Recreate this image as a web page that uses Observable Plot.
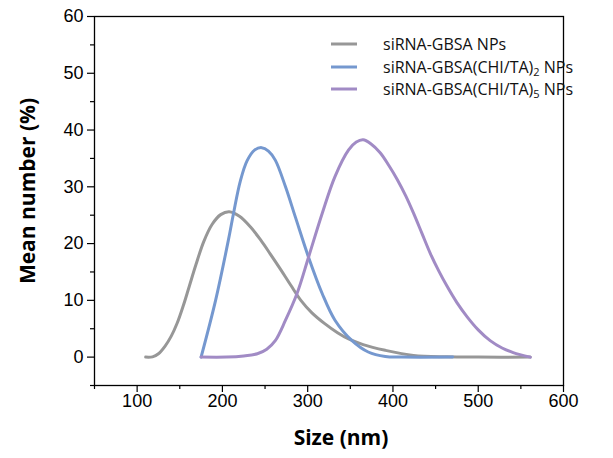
<!DOCTYPE html>
<html>
<head>
<meta charset="utf-8">
<script src="https://cdn.jsdelivr.net/npm/d3@7"></script>
<script src="https://cdn.jsdelivr.net/npm/@observablehq/plot@0.6"></script>
<style>
  body { margin: 0; background: #fff; }
  #chart { position: relative; width: 613px; height: 458px; }
  .legend { position: absolute; left: 331px; top: 33px; font-family: "Open Sans", sans-serif; font-size: 16px; color: #111; }
  .legend .row { display: flex; align-items: center; height: 22.5px; white-space: nowrap; }
  .legend .row svg { margin-right: 26px; }
  .legend sub { font-size: 11px; vertical-align: -3px; line-height: 0; }
</style>
</head>
<body>
<div id="chart"></div>
<script>
// Size distributions (number-weighted) of the three nanoparticle batches
const sizeGray = [110, 118, 125, 133, 140, 147, 154, 161, 169, 178, 188, 198, 208, 220, 233, 245, 256, 268, 280, 292, 305, 320, 335, 348, 365, 391, 424, 463, 500, 561];
const meanGray = [0, 0.05, 0.6, 2.0, 3.7, 6.0, 9.0, 12.4, 16.3, 20.3, 23.4, 25.1, 25.6, 24.8, 22.9, 20.6, 18.2, 15.5, 12.7, 10.0, 7.8, 5.9, 4.3, 3.2, 2.2, 1.2, 0.3, 0.05, 0, 0];

const sizeBlue = [175, 192, 207, 213, 221, 229, 238, 246, 254, 262, 274, 285.5, 301, 317, 332, 352, 371, 391, 410, 470];
const meanBlue = [0, 10.0, 20.6, 25.3, 31.0, 34.6, 36.5, 36.9, 36.3, 34.7, 30.0, 24.7, 17.6, 11.2, 6.5, 2.9, 0.9, 0.1, 0, 0];

const sizePurple = [175, 205, 225, 241, 252, 262, 274, 287.5, 301, 317, 332, 348, 357, 365, 374, 385, 395, 405, 415, 424, 434, 444, 454, 463, 475, 487, 500, 514, 528, 541, 561];
const meanPurple = [0, 0, 0.2, 0.6, 1.4, 2.9, 6.5, 11.2, 17.6, 25.3, 31.8, 36.5, 37.9, 38.3, 37.6, 36.0, 33.8, 31.3, 28.4, 25.4, 21.8, 18.2, 15.1, 12.6, 9.6, 7.1, 4.8, 2.9, 1.6, 0.8, 0];

const seriesNames = ["siRNA-GBSA NPs", "siRNA-GBSA(CHI/TA)2 NPs", "siRNA-GBSA(CHI/TA)5 NPs"];
const seriesColors = ["#979797", "#7598cf", "#a18bc5"];

const xMajor = [100, 200, 300, 400, 500, 600];
const xMinor = [50, 150, 250, 350, 450, 550];
const yMajor = [0, 10, 20, 30, 40, 50, 60];
const yMinor = [-5, 5, 15, 25, 35, 45, 55];

const xTitle = "Size (nm)";
const yTitle = "Mean number (%)";

// long table for the line mark
const rows = [
  ...sizeGray.map((s, i) => ({size: s, mean: meanGray[i], series: seriesNames[0]})),
  ...sizeBlue.map((s, i) => ({size: s, mean: meanBlue[i], series: seriesNames[1]})),
  ...sizePurple.map((s, i) => ({size: s, mean: meanPurple[i], series: seriesNames[2]}))
];

const titleFont = {fontFamily: '"Open Sans", "Noto Sans", sans-serif', fontWeight: "bold", fontSize: 21, fill: "#000", textAnchor: "middle", lineAnchor: "middle"};

const chart = Plot.plot({
  width: 613,
  height: 458,
  marginLeft: 94,
  marginRight: 50,
  marginTop: 16,
  marginBottom: 73,
  style: {fontFamily: '"Liberation Sans", Arial, sans-serif', fontSize: "18px", color: "#000", background: "#fff", overflow: "visible"},
  x: {domain: [50, 600], label: null},
  y: {domain: [-5, 60], label: null},
  color: {domain: seriesNames, range: seriesColors},
  marks: [
    Plot.axisX(xMinor, {tickSize: 4, text: null, label: null, strokeWidth: 1.2}),
    Plot.axisX(xMajor, {tickSize: 7, tickPadding: 2, label: null, strokeWidth: 1.2}),
    Plot.axisY(yMinor, {tickSize: 4, text: null, label: null, strokeWidth: 1.2}),
    Plot.axisY(yMajor, {tickSize: 7, tickPadding: 4, label: null, strokeWidth: 1.2}),
    Plot.frame({stroke: "#000", strokeWidth: 1.3}),
    Plot.line(rows, {x: "size", y: "mean", z: "series", stroke: "series", strokeWidth: 3, curve: "catmull-rom"}),
    Plot.text([xTitle], {text: d => d, frameAnchor: "bottom", dx: 12, dy: 53, ...titleFont}),
    Plot.text([yTitle], {text: d => d, frameAnchor: "left", dx: -66, dy: -10, rotate: -90, ...titleFont})
  ]
});

const host = document.getElementById("chart");
host.appendChild(chart);

// legend with subscripts, drawn in the upper right of the plot area
const legendLabels = ["siRNA-GBSA NPs", "siRNA-GBSA(CHI/TA)<sub>2</sub> NPs", "siRNA-GBSA(CHI/TA)<sub>5</sub> NPs"];
const legend = document.createElement("div");
legend.className = "legend";
legendLabels.forEach((lab, i) => {
  const row = document.createElement("div");
  row.className = "row";
  row.innerHTML = `<svg width="26" height="6"><line x1="0" x2="26" y1="3" y2="3" stroke="${seriesColors[i]}" stroke-width="3"/></svg><span>${lab}</span>`;
  legend.appendChild(row);
});
host.appendChild(legend);
</script>
</body>
</html>
